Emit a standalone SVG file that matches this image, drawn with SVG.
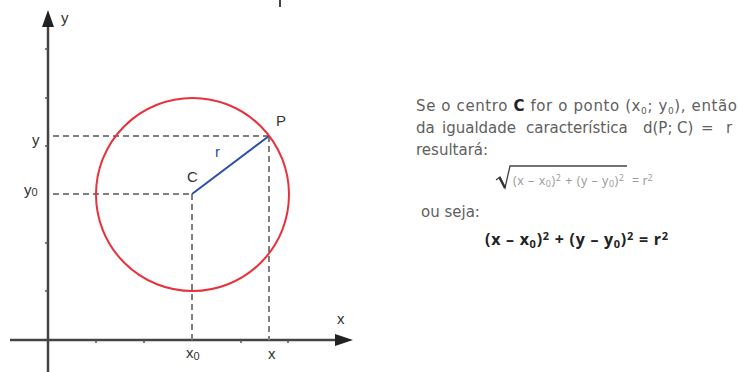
<svg xmlns="http://www.w3.org/2000/svg" width="739" height="372" viewBox="0 0 739 372">
<style>
.axis{stroke:#444;stroke-width:2.5;fill:none}
.tick{stroke:#555;stroke-width:1.5}
.dash{stroke:#808080;stroke-width:2;stroke-dasharray:6 4;fill:none}
.lbl{font-family:"Liberation Sans",Arial,sans-serif;font-size:15px;fill:#333}
.txt{font-family:"DejaVu Sans","Open Sans",sans-serif;font-size:15px;fill:#606060}
.frm{font-family:"Open Sans",Lato,sans-serif;font-size:12.5px;fill:#999}
.bold{font-family:"Open Sans",Lato,sans-serif;font-size:16px;font-weight:bold;fill:#222}
</style>
<rect width="739" height="372" fill="#fff"/>
<line x1="280" y1="0" x2="280" y2="7" stroke="#444" stroke-width="2"/>
<g id="axes">
<line class="axis" x1="48" y1="22" x2="48" y2="372"/>
<polygon points="48,10 42,27 54,27" fill="#222"/>
<line class="axis" x1="10" y1="340" x2="340" y2="340"/>
<polygon points="353,340 335,334 335,346" fill="#222"/>
<g>
<line class="tick" x1="45" y1="49" x2="48" y2="49"/>
<line class="tick" x1="45" y1="98" x2="48" y2="98"/>
<line class="tick" x1="45" y1="146" x2="48" y2="146"/>
<line class="tick" x1="45" y1="243" x2="48" y2="243"/>
<line class="tick" x1="45" y1="291" x2="48" y2="291"/>
<line class="tick" x1="96" y1="340" x2="96" y2="343"/>
<line class="tick" x1="144" y1="340" x2="144" y2="343"/>
<line class="tick" x1="241" y1="340" x2="241" y2="343"/>
<line class="tick" x1="288" y1="340" x2="288" y2="343"/>
</g>
<text class="lbl" x="61" y="23">y</text>
<text class="lbl" x="337" y="324">x</text>
</g>
<g id="connectors">
<line class="dash" x1="53" y1="136" x2="269" y2="136"/>
<line class="dash" x1="53" y1="194" x2="192" y2="194"/>
<line class="dash" x1="192" y1="194" x2="192" y2="340"/>
<line class="dash" x1="269" y1="136" x2="269" y2="340"/>
<line x1="192" y1="194" x2="269" y2="136" stroke="#2b4ea6" stroke-width="2"/>
</g>
<g id="circle">
<circle cx="192.5" cy="194.5" r="96.5" fill="none" stroke="#e8313b" stroke-width="2"/>
</g>
<g id="C"><text class="lbl" x="187" y="182">C</text></g>
<g id="P"><text class="lbl" x="276" y="126">P</text></g>
<g id="r"><text class="lbl" x="215" y="157" style="fill:#2b4ea6">r</text></g>
<g id="labels">
<text class="lbl" x="32" y="145">y</text>
<text class="lbl" x="24" y="195">y<tspan font-size="11" dy="1">0</tspan></text>
<text class="lbl" x="186" y="358">x<tspan font-size="11" dy="2">0</tspan></text>
<text class="lbl" x="268" y="359">x</text>
</g>
<g id="text">
<text class="txt" x="416" y="111" textLength="321">Se o centro <tspan font-weight="bold" fill="#222">C</tspan> for o ponto (x<tspan font-size="9" dy="3">0</tspan><tspan dy="-3">; y</tspan><tspan font-size="9" dy="3">0</tspan><tspan dy="-3">), então</tspan></text>
<text class="txt" y="133"><tspan x="416">da</tspan><tspan x="442">igualdade</tspan><tspan x="526">característica</tspan><tspan x="643">d(P;</tspan><tspan x="677">C)</tspan><tspan x="701">=</tspan><tspan x="726">r</tspan></text>
<text class="txt" x="416" y="155">resultará:</text>
<g id="sqrt">
<path d="M496,180 L500,177 L505,188 L510,166 L627,166" fill="none" stroke="#444" stroke-width="1.3"/>
<path d="M499.5,177.5 L505,188" fill="none" stroke="#333" stroke-width="2.5"/>
<text class="frm" x="513" y="185" textLength="111">(x – x<tspan font-size="9" dy="2">0</tspan><tspan dy="-2">)</tspan><tspan font-size="9" dy="-4">2</tspan><tspan dy="4"> + (y – y</tspan><tspan font-size="9" dy="2">0</tspan><tspan dy="-2">)</tspan><tspan font-size="9" dy="-4">2</tspan></text>
<text class="frm" x="632" y="185">= r<tspan font-size="9" dy="-4">2</tspan></text>
</g>
<text class="txt" x="421" y="217">ou seja:</text>
<text class="bold" x="485" y="245" textLength="183">(x – x<tspan font-size="11" dy="3">0</tspan><tspan dy="-3">)</tspan><tspan font-size="11" dy="-5">2</tspan><tspan dy="5"> + (y – y</tspan><tspan font-size="11" dy="3">0</tspan><tspan dy="-3">)</tspan><tspan font-size="11" dy="-5">2</tspan><tspan dy="5"> = r</tspan><tspan font-size="11" dy="-5">2</tspan></text>
</g>
</svg>
